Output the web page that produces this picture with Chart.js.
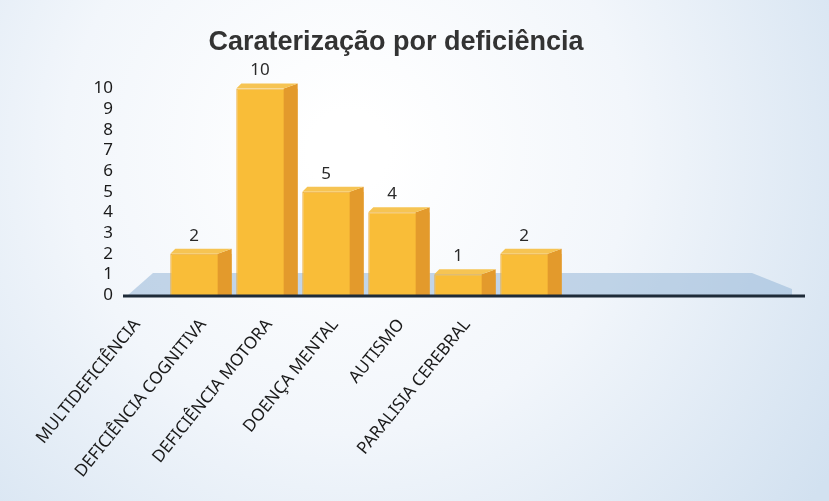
<!DOCTYPE html>
<html>
<head>
<meta charset="utf-8">
<script src="https://cdn.jsdelivr.net/npm/chart.js@4.4.0/dist/chart.umd.min.js"></script>
<style>
html, body { margin: 0; padding: 0; background: #fff; }
</style>
</head>
<body>
<canvas id="deficienciaChart" width="829" height="501"></canvas>
<script>
// categorias (as últimas ficaram vazias na folha original)
const categories = ["MULTIDEFICIÊNCIA", "DEFICIÊNCIA COGNITIVA", "DEFICIÊNCIA MOTORA", "DOENÇA MENTAL", "AUTISMO", "PARALISIA CEREBRAL", "", "", ""];
const counts = [2, 10, 5, 4, 1, 2, null, null, null];
const yTicks = [0, 1, 2, 3, 4, 5, 6, 7, 8, 9, 10];

const SIDE = 14;   // largura da face lateral
const RISE = 5;    // altura da face de cima

const depthPlugin = {
    id: "depth",
    beforeDraw(chart) {
        const { ctx, width, height } = chart;
        const g = ctx.createRadialGradient(width * 0.42, height * 0.3, 40, width * 0.42, height * 0.3, width * 0.7);
        g.addColorStop(0, "#ffffff");
        g.addColorStop(0.45, "#f2f6fb");
        g.addColorStop(1, "#d2e1f0");
        ctx.save();
        ctx.fillStyle = g;
        ctx.fillRect(0, 0, width, height);
        ctx.restore();
    },
    beforeDatasetsDraw(chart) {
        const { ctx, chartArea } = chart;
        const y0 = chart.scales.y.getPixelForValue(0);
        ctx.save();
        ctx.fillStyle = "rgba(150, 182, 215, 0.55)";
        ctx.beginPath();
        ctx.moveTo(chartArea.left - 40, y0);
        ctx.lineTo(chartArea.left - 15, y0 - 22);
        ctx.lineTo(chartArea.right - 10, y0 - 22);
        ctx.lineTo(chartArea.right + 30, y0 - 6);
        ctx.lineTo(chartArea.right + 30, y0);
        ctx.closePath();
        ctx.fill();
        ctx.restore();
    },
    afterDatasetsDraw(chart) {
        const { ctx, chartArea } = chart;
        const meta = chart.getDatasetMeta(0);
        const y0 = chart.scales.y.getPixelForValue(0);
        ctx.save();
        meta.data.forEach((bar, i) => {
            if (counts[i] === null) return;
            const right = bar.x + bar.width / 2;
            const left = bar.x - bar.width / 2;
            // face lateral
            ctx.fillStyle = "#e39a2c";
            ctx.beginPath();
            ctx.moveTo(right - SIDE, bar.y);
            ctx.lineTo(right, bar.y - RISE);
            ctx.lineTo(right, bar.base);
            ctx.lineTo(right - SIDE, bar.base);
            ctx.closePath();
            ctx.fill();
            // face de cima
            ctx.fillStyle = "#f6c453";
            ctx.beginPath();
            ctx.moveTo(left, bar.y);
            ctx.lineTo(left + RISE, bar.y - RISE);
            ctx.lineTo(right, bar.y - RISE);
            ctx.lineTo(right - SIDE, bar.y);
            ctx.closePath();
            ctx.fill();
            // valor
            ctx.fillStyle = "#2a2a2a";
            ctx.font = "17px 'Noto Sans'";
            ctx.textAlign = "center";
            ctx.textBaseline = "middle";
            ctx.fillText(String(counts[i]), bar.x - SIDE / 2, bar.y - 18);
        });
        // linha do eixo
        ctx.strokeStyle = "#1e2b38";
        ctx.lineWidth = 3;
        ctx.beginPath();
        ctx.moveTo(chartArea.left - 45, y0 + 1);
        ctx.lineTo(chartArea.right + 43, y0 + 1);
        ctx.stroke();
        ctx.restore();
    }
};

const ctx = document.getElementById("deficienciaChart").getContext("2d");

new Chart(ctx, {
    type: "bar",
    data: {
        labels: categories,
        datasets: [{
            data: counts,
            backgroundColor: "#f9bd38",
            borderColor: "#eaa52a",
            borderWidth: 1,
            barPercentage: 0.93,
            categoryPercentage: 1.0
        }]
    },
    options: {
        responsive: false,
        animation: false,
        layout: { padding: { left: 30, right: 67, top: 0, bottom: 0 } },
        plugins: {
            legend: { display: false },
            tooltip: { enabled: false },
            title: {
                display: true,
                text: "Caraterização por deficiência",
                color: "#333",
                font: { family: "'Liberation Sans', Arial, sans-serif", size: 27, weight: "bold" },
                padding: { top: 26, bottom: 30 }
            }
        },
        scales: {
            x: {
                grid: { display: false, drawTicks: false },
                border: { display: false },
                ticks: {
                    autoSkip: false,
                    minRotation: 51,
                    maxRotation: 51,
                    labelOffset: -64,
                    padding: 20,
                    color: "#1a1a1a",
                    font: { family: "'Noto Sans', sans-serif", size: 17 }
                },
                afterFit: function (scale) { scale.height = 206; }
            },
            y: {
                min: 0,
                max: 10,
                grid: { display: false, drawTicks: false },
                border: { display: false },
                ticks: {
                    autoSkip: false,
                    padding: 55,
                    color: "#1a1a1a",
                    font: { family: "'Noto Sans', sans-serif", size: 17 }
                },
                afterBuildTicks: function (scale) {
                    scale.ticks = yTicks.map(v => ({ value: v }));
                },
                afterFit: function (scale) { scale.width = 138; }
            }
        }
    },
    plugins: [depthPlugin]
});
</script>
</body>
</html>
